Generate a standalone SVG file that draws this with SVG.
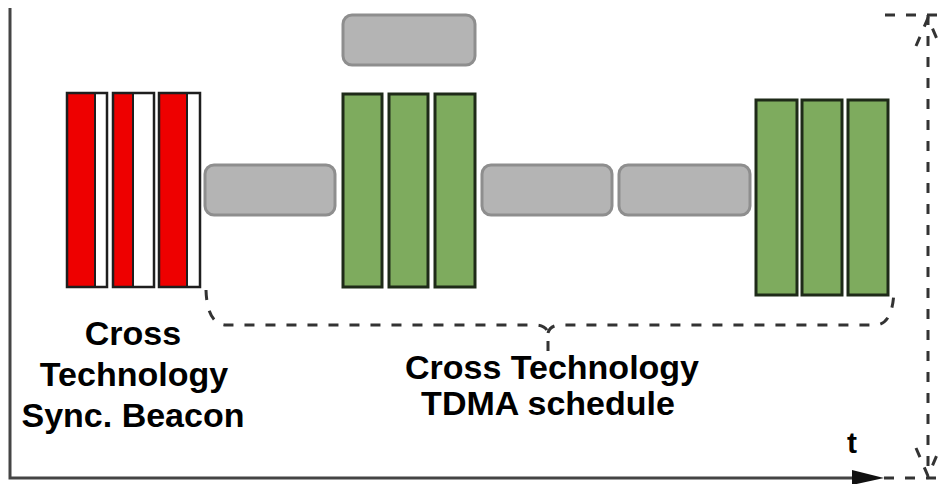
<svg xmlns="http://www.w3.org/2000/svg" width="939" height="484" viewBox="0 0 939 484">
  <style>
    .red { fill: #ee0000; }
    .slot { fill: #ffffff; }
    .frame { fill: none; stroke: #1e1e1e; stroke-width: 2.5; }
    .div { stroke: #1e1e1e; stroke-width: 2; }
    .green { fill: #7eab5e; stroke: #1e2a18; stroke-width: 3; }
    .gray { fill: #b4b4b4; stroke: #8e8e8e; stroke-width: 3; }
    .dash { fill: none; stroke: #333333; stroke-width: 3; stroke-dasharray: 10 11; }
    .axis { stroke: #444444; stroke-width: 3; fill: none; }
    .label { font-family: "Liberation Sans", Arial, sans-serif; font-weight: bold; font-size: 34px; fill: #000000; text-anchor: middle; }
  </style>

  <rect width="939" height="484" fill="#ffffff"/>

  <!-- time axis and left frame -->
  <g id="axes">
    <path class="axis" d="M10,8 V478 H858"/>
    <polygon points="852,470 884,478 852,485" fill="#111111"/>
    <path class="dash" d="M884,478 H939"/>
    <path class="dash" d="M885,15 H939"/>
    <text class="label" x="852" y="453" style="font-size:30px">t</text>
  </g>

  <!-- sync beacon: three red/white bars -->
  <g id="beacon">
    <rect class="red" x="67" y="93" width="28" height="194"/>
    <rect class="slot" x="95" y="93" width="12" height="194"/>
    <line class="div" x1="95" y1="93" x2="95" y2="287"/>
    <rect class="frame" x="67" y="93" width="40" height="194"/>

    <rect class="red" x="113" y="93" width="20" height="194"/>
    <rect class="slot" x="133" y="93" width="21" height="194"/>
    <line class="div" x1="133" y1="93" x2="133" y2="287"/>
    <rect class="frame" x="113" y="93" width="41" height="194"/>

    <rect class="red" x="159" y="93" width="28" height="194"/>
    <rect class="slot" x="187" y="93" width="13" height="194"/>
    <line class="div" x1="187" y1="93" x2="187" y2="287"/>
    <rect class="frame" x="159" y="93" width="41" height="194"/>
  </g>

  <!-- idle gaps -->
  <g id="gap1"><rect class="gray" x="205" y="165" width="130" height="50" rx="9"/></g>
  <g id="gap-top"><rect class="gray" x="343" y="15" width="132" height="50" rx="9"/></g>
  <g id="gap2"><rect class="gray" x="482" y="165" width="130" height="50" rx="9"/></g>
  <g id="gap3"><rect class="gray" x="619" y="165" width="131" height="50" rx="9"/></g>

  <!-- TDMA slots -->
  <g id="slots1">
    <rect class="green" x="343" y="94" width="39" height="193"/>
    <rect class="green" x="389" y="94" width="39" height="193"/>
    <rect class="green" x="435" y="94" width="40" height="193"/>
  </g>
  <g id="slots2">
    <rect class="green" x="756" y="100" width="41" height="195"/>
    <rect class="green" x="802" y="100" width="40" height="195"/>
    <rect class="green" x="848" y="100" width="40" height="195"/>
  </g>

  <!-- braces -->
  <g id="connectors">
    <path class="dash" d="M206,290 Q207,324 226,325 H535 Q546,325 548,333 V356 M548,333 Q550,325 561,325 H876 Q893,324 894,290"/>
    <path class="dash" d="M928,15 V478"/>
    <path class="dash" d="M916,46 L928,18 L940,46"/>
    <path class="dash" d="M916,448 L928,476 L940,448"/>
  </g>

  <g id="labels">
    <text class="label" x="133" y="345">Cross</text>
    <text class="label" x="134" y="386">Technology</text>
    <text class="label" x="133" y="427">Sync. Beacon</text>
    <text class="label" x="552" y="379">Cross Technology</text>
    <text class="label" x="548" y="415">TDMA schedule</text>
  </g>
</svg>
